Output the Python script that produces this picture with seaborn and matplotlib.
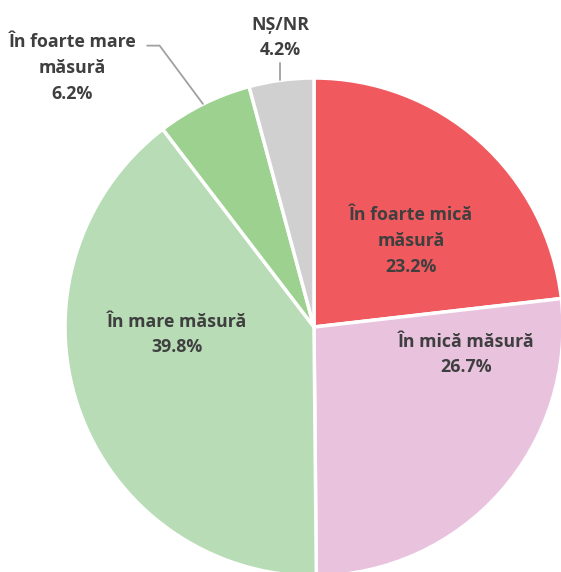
import matplotlib
matplotlib.use("Agg")
import matplotlib.pyplot as plt
import seaborn as sns
import numpy as np

# Survey shares, drawn clockwise from 12 o'clock
categories = ["În foarte mică\nmăsură", "În mică măsură", "În mare măsură",
              "În foarte mare\nmăsură", "NȘ/NR"]
values = [23.2, 26.7, 39.8, 6.2, 4.2]
colors = ["#F05A5E", "#E9C3DE", "#B8DDB6", "#9DD190", "#D0D0D0"]

sns.set_theme(style="white")
plt.rcParams["font.family"] = ["Open Sans", "DejaVu Sans"]

W, H, DPI = 561, 572, 100
fig = plt.figure(figsize=(W / DPI, H / DPI), dpi=DPI)
ax = fig.add_axes([0, 0, 1, 1])

ax.pie(values, colors=colors, startangle=90, counterclock=False, radius=1.0,
       wedgeprops=dict(edgecolor="white", linewidth=2.5))

cx, cy, R = 314, 327, 249  # pie centre and radius in pixels
ax.set_xlim(-cx / R, (W - cx) / R)
ax.set_ylim(-(H - cy) / R, cy / R)
ax.set_aspect("equal")
ax.axis("off")

txt = dict(ha="center", va="center", fontsize=12.8, fontweight="bold",
           color="#3F3F3F", linespacing=1.55)

# label anchor points (in pie-radius units)
label_pos = [(0.39, 0.345), (0.61, -0.11), (-0.55, -0.03),
             (-0.97, 1.04), (-0.137, 1.163)]
for cat, val, (x, y) in zip(categories, values, label_pos):
    ax.text(x, y, f"{cat}\n{val:.1f}%", **txt)

# leader lines for the two thin slices
ax.plot([-0.67, -0.62, -0.446], [1.13, 1.13, 0.896], color="#A0A0A0", lw=1.3)
ax.plot([-0.137, -0.137], [1.06, 0.99], color="#A0A0A0", lw=1.3)

fig.savefig("out.png", dpi=DPI)
